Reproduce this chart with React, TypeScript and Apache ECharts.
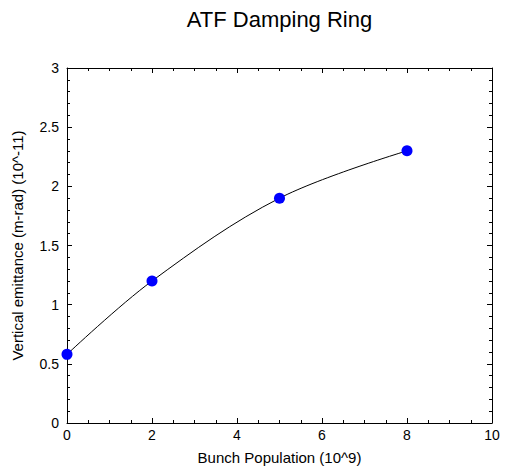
import React, { useEffect, useRef } from "react";
import * as echarts from "echarts";

const bunchPopulation = [0, 2, 5, 8];
const emittance = [0.58, 1.2, 1.9, 2.3];
const titleText = "ATF Damping Ring";
const xName = "Bunch Population (10^9)";
const yName = "Vertical emittance (m-rad) (10^-11)";

export default function App() {
  const ref = useRef<HTMLDivElement>(null);
  useEffect(() => {
    if (!ref.current) return;
    const chart = echarts.init(ref.current, undefined, { renderer: "svg" });
    const font = "Liberation Sans, Arial, Helvetica, sans-serif";
    const data = bunchPopulation.map((x, i) => [x, emittance[i]]);
    const baseX = {
      type: "value" as const,
      min: 0,
      max: 10,
      interval: 2,
      splitLine: { show: false },
      axisLine: { show: true, onZero: false, lineStyle: { color: "#000", width: 1 } },
      axisTick: { show: true, inside: true, length: 5, lineStyle: { color: "#000" } },
      minorTick: { show: true, splitNumber: 4, length: 3, lineStyle: { color: "#000" } },
    };
    const baseY = {
      type: "value" as const,
      min: 0,
      max: 3,
      interval: 0.5,
      splitLine: { show: false },
      axisLine: { show: true, onZero: false, lineStyle: { color: "#000", width: 1 } },
      axisTick: { show: true, inside: true, length: 5, lineStyle: { color: "#000" } },
      minorTick: { show: true, splitNumber: 5, length: 3, lineStyle: { color: "#000" } },
    };
    chart.setOption({
      animation: false,
      backgroundColor: "#fff",
      graphic: [
        {
          type: "text",
          x: 279.5,
          y: 8,
          style: {
            text: titleText,
            textAlign: "center",
            textVerticalAlign: "top",
            font: `normal 22px ${font}`,
            fill: "#000",
          },
        },
      ],
      grid: { left: 67, right: 14, top: 68, bottom: 45 },
      xAxis: [
        {
          ...baseX,
          position: "bottom",
          name: xName,
          nameLocation: "middle",
          nameGap: 27,
          nameTextStyle: { fontFamily: font, fontSize: 15, color: "#000" },
          axisLabel: { fontFamily: font, fontSize: 14, color: "#000", margin: 5 },
        },
        { ...baseX, position: "top", axisLabel: { show: false } },
      ],
      yAxis: [
        {
          ...baseY,
          position: "left",
          name: yName,
          nameLocation: "middle",
          nameGap: 42,
          nameTextStyle: { fontFamily: font, fontSize: 15, color: "#000" },
          axisLabel: { fontFamily: font, fontSize: 14, color: "#000", margin: 8 },
        },
        { ...baseY, position: "right", axisLabel: { show: false } },
      ],
      series: [
        {
          type: "line",
          data,
          smooth: 0.35,
          symbol: "circle",
          symbolSize: 11,
          itemStyle: { color: "#0000ff" },
          lineStyle: { color: "#000", width: 1 },
          xAxisIndex: 0,
          yAxisIndex: 0,
          z: 2,
        },
      ],
    });
    return () => chart.dispose();
  }, []);
  return <div ref={ref} style={{ width: 506, height: 470, position: "absolute", left: 0, top: 0 }} />;
}
